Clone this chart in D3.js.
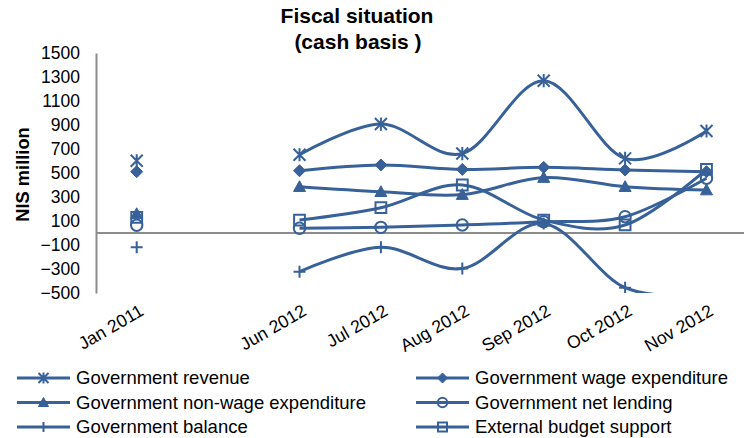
<!DOCTYPE html>
<html>
<head>
<meta charset="utf-8">
<script src="https://cdn.jsdelivr.net/npm/d3@7"></script>
<style>
  html, body { margin: 0; padding: 0; background: #fff; }
  svg { display: block; font-family: "Liberation Sans", Arial, sans-serif; }
</style>
</head>
<body>
<svg id="chart" width="744" height="438"></svg>
<script>
// ---- data ----
const categories = ["Jan 2011", "", "Jun 2012", "Jul 2012", "Aug 2012", "Sep 2012", "Oct 2012", "Nov 2012"];
const revenue     = [602, null, 652, 908, 662, 1269, 622, 850];
const wageExp     = [511, null, 519, 567, 530, 547, 525, 511];
const nonWageExp  = [160, null, 386, 344, 320, 462, 386, 358];
const netLending  = [65,  null, 39,  47,  67,  94,  136, 456];
const balance     = [-119, null, -322, -119, -296, 80, -456, -515];
const extSupport  = [130, null, 108, 211, 400, 108, 67,  531];
const yTicks = [1500, 1300, 1100, 900, 700, 500, 300, 100, -100, -300, -500];

const seriesNames = ["Government revenue", "Government wage expenditure", "Government non-wage expenditure",
                     "Government net lending", "Government balance", "External budget support"];
const seriesValues = [revenue, wageExp, nonWageExp, netLending, balance, extSupport];
const seriesMarkers = ["star", "diamond", "triangle", "circle", "plus", "square"];

const color = "#376198";
const svg = d3.select("#chart");

const left = 96, step = 81.4;
const x = d3.scalePoint().domain(d3.range(categories.length))
  .range([left + step / 2, left + step * (categories.length - 0.5)]);
const y = d3.scaleLinear().domain([-500, 1500]).range([293, 53]);

// title
svg.append("text").attr("x", 357).attr("y", 23).attr("text-anchor", "middle")
  .attr("font-weight", "bold").attr("font-size", 21).text("Fiscal situation");
svg.append("text").attr("x", 358).attr("y", 49).attr("text-anchor", "middle")
  .attr("font-weight", "bold").attr("font-size", 21).text("(cash basis )");

// y axis title
svg.append("text").attr("transform", "translate(29,174.5) rotate(-90)")
  .attr("text-anchor", "middle").attr("font-weight", "bold").attr("font-size", 18.3)
  .text("NIS million");

// y axis
const yAxis = d3.axisLeft(y).tickValues(yTicks).tickSize(0).tickPadding(16).tickFormat(d3.format("d"));
const gy = svg.append("g").attr("transform", `translate(${left},0)`).call(yAxis);
gy.select(".domain").attr("stroke", "#8c8c8c").attr("stroke-width", 2);
gy.selectAll("text").attr("font-size", 17.5).attr("fill", "#000")
  .attr("font-family", "'Liberation Sans', Arial, sans-serif");

// zero line
svg.append("line").attr("x1", left).attr("x2", 744).attr("y1", y(0)).attr("y2", y(0))
  .attr("stroke", "#8c8c8c").attr("stroke-width", 2);

// x labels
svg.append("g").selectAll("text").data(categories.map((c, i) => ({c, i})).filter(d => d.c))
  .join("text")
  .attr("transform", d => `translate(${x(d.i) + 5},${309}) rotate(-30)`)
  .attr("text-anchor", "end").attr("dy", "0.35em")
  .attr("font-size", 17.7).text(d => d.c);

// clip
svg.append("clipPath").attr("id", "plotclip").append("rect")
  .attr("x", left).attr("y", 53).attr("width", 744 - left).attr("height", 240);

const line = d3.line()
  .defined(d => d.v !== null)
  .x(d => x(d.i)).y(d => y(d.v))
  .curve(d3.curveCardinal.tension(0));

function markerPath(type, s) {
  const p = d3.path();
  switch (type) {
    case "star":
      p.moveTo(-s, -s); p.lineTo(s, s);
      p.moveTo(-s, s); p.lineTo(s, -s);
      p.moveTo(0, -s * 1.1); p.lineTo(0, s * 1.1);
      break;
    case "plus":
      p.moveTo(-s, 0); p.lineTo(s, 0);
      p.moveTo(0, -s); p.lineTo(0, s);
      break;
    case "diamond":
      p.moveTo(0, -s); p.lineTo(s, 0); p.lineTo(0, s); p.lineTo(-s, 0); p.closePath();
      break;
    case "triangle":
      p.moveTo(0, -s); p.lineTo(s, s * 0.8); p.lineTo(-s, s * 0.8); p.closePath();
      break;
    case "circle":
      p.arc(0, 0, s * 0.95, 0, 2 * Math.PI);
      break;
    case "square":
      p.rect(-s * 0.9, -s * 0.9, s * 1.8, s * 1.8);
      break;
  }
  return p.toString();
}
function styleMarker(sel, type) {
  if (type === "diamond" || type === "triangle") {
    sel.attr("fill", color).attr("stroke", color).attr("stroke-width", 1);
  } else {
    sel.attr("fill", "none").attr("stroke", color).attr("stroke-width", 2);
  }
}

const gPlot = svg.append("g").attr("clip-path", "url(#plotclip)");
seriesValues.forEach((vals, si) => {
  const pts = vals.map((v, i) => ({v, i}));
  gPlot.append("path").attr("d", line(pts)).attr("fill", "none")
    .attr("stroke", color).attr("stroke-width", 3);
});
seriesValues.forEach((vals, si) => {
  const pts = vals.map((v, i) => ({v, i})).filter(d => d.v !== null && d.v >= -500 && d.v <= 1500);
  const type = seriesMarkers[si];
  gPlot.append("g").selectAll("path").data(pts).join("path")
    .attr("transform", d => `translate(${x(d.i)},${y(d.v)})`)
    .attr("d", markerPath(type, 6))
    .call(styleMarker, type);
});

// legend
const legendPos = [[17, 378], [416, 378], [17, 402.5], [416, 402.5], [17, 427], [416, 427]];
const gl = svg.append("g");
seriesNames.forEach((name, si) => {
  const [lx, ly] = legendPos[si];
  const g = gl.append("g").attr("transform", `translate(${lx},${ly})`);
  g.append("line").attr("x1", 0).attr("x2", 53).attr("y1", 0).attr("y2", 0)
    .attr("stroke", color).attr("stroke-width", 3);
  const type = seriesMarkers[si];
  g.append("path").attr("transform", "translate(26.5,0)")
    .attr("d", markerPath(type, 5)).call(styleMarker, type);
  g.append("text").attr("x", 59).attr("y", 0).attr("dy", "0.35em")
    .attr("font-size", 18.5).text(name);
});
</script>
</body>
</html>
